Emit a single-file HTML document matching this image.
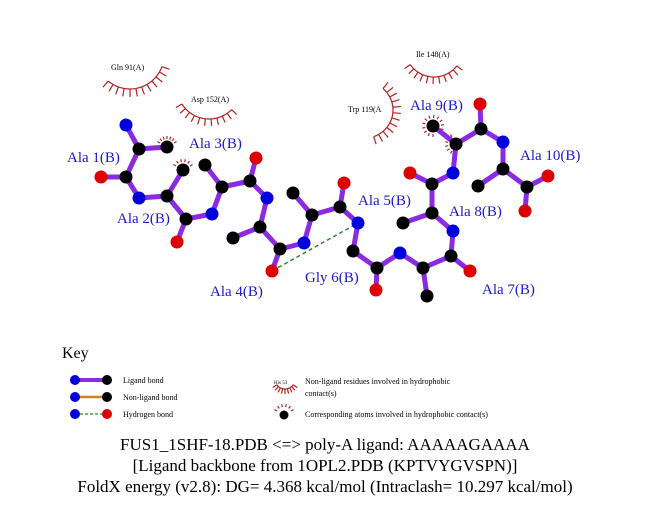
<!DOCTYPE html>
<html><head><style>body{margin:0;background:#fff}svg{display:block}</style></head><body>
<svg id="s" width="651" height="511" xmlns="http://www.w3.org/2000/svg" font-family="Liberation Serif, serif">
<g id="arcs" stroke="#b22222" stroke-width="1.2" fill="none"></g>
<g id="hb"><line x1="272" y1="271" x2="358" y2="223" stroke="#2a8a2a" stroke-width="1.5" stroke-dasharray="4,3"/></g>
<g id="bonds" stroke="#8a2be2" stroke-width="5" stroke-linecap="round"></g>
<g id="atoms"></g>
<g fill="#1a1acc" font-size="15">
<text x="67" y="162">Ala 1(B)</text><text x="117" y="223">Ala 2(B)</text><text x="189" y="148">Ala 3(B)</text>
<text x="210" y="296">Ala 4(B)</text><text x="305" y="282">Gly 6(B)</text><text x="358" y="205">Ala 5(B)</text>
<text x="449" y="216">Ala 8(B)</text><text x="482" y="294">Ala 7(B)</text><text x="410" y="110">Ala 9(B)</text>
<text x="520" y="160">Ala 10(B)</text>
</g>
<g fill="#000" font-size="8">
<text x="111" y="70">Gln 91(A)</text><text x="191" y="102">Asp 152(A)</text><text x="416" y="57">Ile 148(A)</text><text x="348" y="112">Trp 119(A</text>
</g>
<text x="62" y="358" font-size="16">Key</text>
<line x1="75" y1="380" x2="107" y2="380" stroke="#8a2be2" stroke-width="4"/>
<line x1="75" y1="397" x2="107" y2="397" stroke="#c8862a" stroke-width="2.5"/>
<line x1="75" y1="414" x2="107" y2="414" stroke="#2a8a2a" stroke-width="1.2" stroke-dasharray="3,2"/>
<circle cx="75" cy="380" r="5" fill="#0000dd"/><circle cx="107" cy="380" r="5" fill="#000"/>
<circle cx="75" cy="397" r="5" fill="#0000dd"/><circle cx="107" cy="397" r="5" fill="#000"/>
<circle cx="75" cy="414" r="5" fill="#0000dd"/><circle cx="107" cy="414" r="5" fill="#dd0000"/>
<g font-size="8"><text x="123" y="383">Ligand bond</text><text x="123" y="400">Non-ligand bond</text><text x="123" y="417">Hydrogen bond</text>
<text x="274" y="384" font-size="5">His 53</text>
<text x="305" y="384">Non-ligand residues involved in hydrophobic</text><text x="305" y="396">contact(s)</text>
<text x="305" y="417">Corresponding atoms involved in hydrophobic contact(s)</text></g>
<circle cx="284" cy="415" r="4.5" fill="#000"/>
<g font-size="17" text-anchor="middle"><text x="325" y="450">FUS1_1SHF-18.PDB &lt;=&gt; poly-A ligand: AAAAAGAAAA</text>
<text x="325" y="471">[Ligand backbone from 1OPL2.PDB (KPTVYGVSPN)]</text>
<text x="325" y="492">FoldX energy (v2.8): DG= 4.368 kcal/mol (Intraclash= 10.297 kcal/mol)</text></g>
</svg>
<script>
var NS="http://www.w3.org/2000/svg";
function el(p,t,a){var e=document.createElementNS(NS,t);for(var k in a)e.setAttribute(k,a[k]);document.getElementById(p).appendChild(e);}
var A={N1:[126,125,'b'],CA1:[139,149,'k'],CB1:[167,147,'k'],C1:[126,177,'k'],O1:[101,177,'r'],
N2:[139,198,'b'],CA2:[167,196,'k'],CB2:[183,170,'k'],C2:[186,219,'k'],O2:[177,242,'r'],
N3:[212,214,'b'],CA3:[222,187,'k'],CB3:[205,165,'k'],C3:[250,181,'k'],O3:[256,158,'r'],
N4:[267,198,'b'],CA4:[260,227,'k'],CB4:[233,238,'k'],C4:[280,249,'k'],O4:[272,271,'r'],
N5:[304,243,'b'],CA5:[312,215,'k'],CB5:[293,193,'k'],C5:[340,207,'k'],O5:[344,183,'r'],
N6:[358,223,'b'],CA6:[353,251,'k'],C6:[377,268,'k'],O6:[376,290,'r'],
N7:[400,253,'b'],CA7:[423,268,'k'],CB7:[427,296,'k'],C7:[451,256,'k'],O7:[470,271,'r'],
N8:[453,231,'b'],CA8:[432,213,'k'],CB8:[403,223,'k'],C8:[432,184,'k'],O8:[410,173,'r'],
N9:[453,173,'b'],CA9:[456,144,'k'],CB9:[433,126,'k'],C9:[481,129,'k'],O9:[480,104,'r'],
N10:[503,142,'b'],CA10:[503,169,'k'],CB10:[478,186,'k'],C10:[527,187,'k'],OA:[548,176,'r'],OB:[525,211,'r']};
var B="N1-CA1 CA1-CB1 CA1-C1 C1-O1 C1-N2 N2-CA2 CA2-CB2 CA2-C2 C2-O2 C2-N3 N3-CA3 CA3-CB3 CA3-C3 C3-O3 C3-N4 N4-CA4 CA4-CB4 CA4-C4 C4-O4 C4-N5 N5-CA5 CA5-CB5 CA5-C5 C5-O5 C5-N6 N6-CA6 CA6-C6 C6-O6 C6-N7 N7-CA7 CA7-CB7 CA7-C7 C7-O7 C7-N8 N8-CA8 CA8-CB8 CA8-C8 C8-O8 C8-N9 N9-CA9 CA9-CB9 CA9-C9 C9-O9 C9-N10 N10-CA10 CA10-CB10 CA10-C10 C10-OA C10-OB".split(" ");
B.forEach(function(b){var p=b.split("-"),a=A[p[0]],c=A[p[1]];el("bonds","line",{x1:a[0],y1:a[1],x2:c[0],y2:c[1]});});
var col={b:"#0000dd",k:"#000",r:"#dd0000"};
for(var k in A){var a=A[k];el("atoms","circle",{cx:a[0],cy:a[1],r:6.5,fill:col[a[2]]});}
function arc(cx,cy,r,a0,a1,n,len,noline){var d="";for(var i=0;i<=20;i++){var t=(a0+(a1-a0)*i/20)*Math.PI/180;d+=(i?"L":"M")+(cx+r*Math.cos(t))+","+(cy+r*Math.sin(t));}
if(!noline)el("arcs","path",{d:d});for(var i=0;i<n;i++){var t=(a0+(a1-a0)*i/(n-1))*Math.PI/180;
el("arcs","line",{x1:cx+r*Math.cos(t),y1:cy+r*Math.sin(t),x2:cx+(r+len)*Math.cos(t),y2:cy+(r+len)*Math.sin(t)});}}
arc(130,55,34,20,130,12,8);
arc(209,87,32,45,148,11,7);
arc(434,48,29,38,145,11,7);
arc(365,110,28,-50,72,12,8);
arc(285,379,10,35,145,9,5);
function spikes(x,y,a0,a1,n){arc(x,y,8,a0,a1,n,3,true);}
spikes(167,147,-150,-30,7);spikes(183,170,-150,-30,6);spikes(433,126,-270,20,12);spikes(456,144,120,240,6);spikes(284,415,-150,-30,6);
</script>
</body></html>
